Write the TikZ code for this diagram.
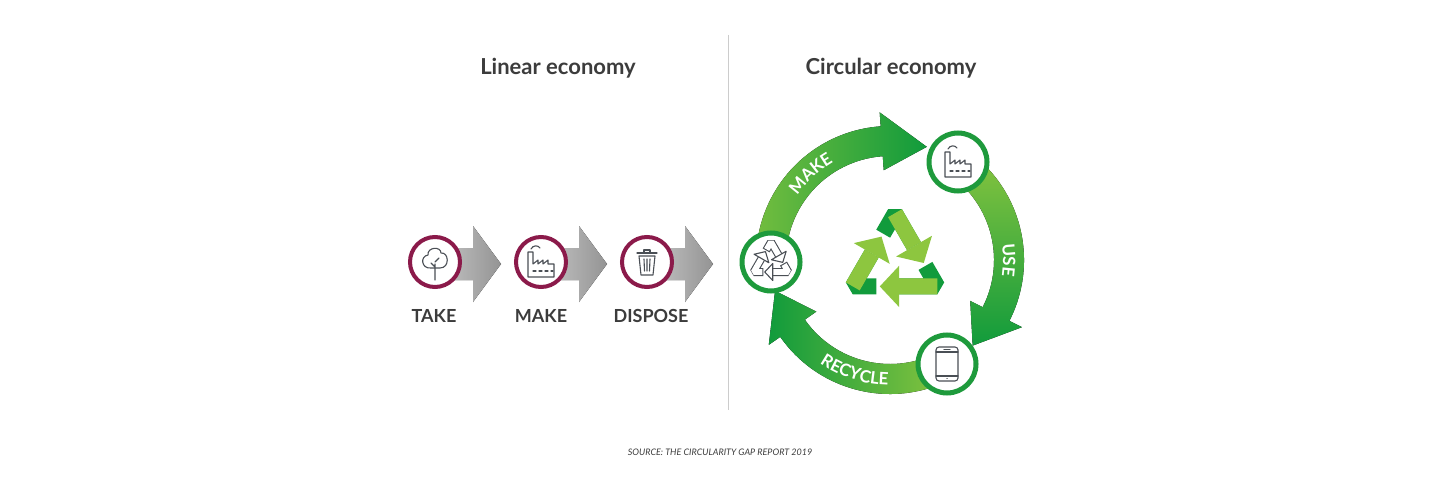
\documentclass[tikz,border=0pt]{standalone}
\usepackage{fontspec}
\setmainfont{Lato}
\usetikzlibrary{shapes.geometric,arrows.meta,decorations.text}
\definecolor{lg}{HTML}{8DC63F}
\definecolor{dg}{HTML}{119B3C}
\definecolor{ring}{HTML}{1E9A3C}
\definecolor{plum}{HTML}{8B1A4A}
\definecolor{ink}{HTML}{3C3C3C}
\definecolor{icon}{HTML}{4A4F55}
\tikzset{
  ttl/.style={font=\fontsize{22}{24}\selectfont\bfseries, text=ink},
  lbl/.style={font=\fontsize{18}{20}\selectfont\bfseries, text=ink},
  pcirc/.style={circle, draw=plum, line width=4pt, fill=white, minimum size=50pt},
  gcirc/.style={circle, draw=ring, line width=5pt, fill=white, minimum size=58pt},
  ico/.style={draw=icon, line width=1.1pt, line join=round, line cap=round},
  arctext/.style={decorate, decoration={text along path, text align=center, text={|\fontsize{17}{19}\selectfont\bfseries\color{white}|#1}}},
}
\begin{document}
\begin{tikzpicture}[x=1pt,y=-1pt]
\useasboundingbox (0,0) rectangle (1440,500);
\fill[white] (0,0) rectangle (1440,500);
% titles
\node[ttl] (t1) at (558,68) {Linear economy};
\node[ttl] (t2) at (891,68) {Circular economy};
\draw[black!20, line width=0.8pt] (728,35) -- (728,410);
\node[font=\fontsize{9}{10}\selectfont\itshape, text=ink] (src) at (720,452) {SOURCE: THE CIRCULARITY GAP REPORT 2019};
% linear arrows
\foreach \x in {435,541,647}{
  \fill[left color=black!22, right color=black!42] (\x,248) -- (\x+38,248) -- (\x+38,226) -- (\x+66,264) -- (\x+38,302) -- (\x+38,280) -- (\x,280) -- cycle;
}
\node[pcirc] (take) at (435,262) {};
\node[pcirc] (lmake) at (541,262) {};
\node[pcirc] (disp) at (647,262) {};
\node[lbl] (l1) at (434,316) {TAKE};
\node[lbl] (l2) at (541,316) {MAKE};
\node[lbl] (l3) at (651,316) {DISPOSE};
% tree icon
\begin{scope}[shift={(435,262)},yscale=-1]
\draw[ico] (-4,-6) .. controls (-14,-7) and (-15,6) .. (-7,7) .. controls (-8,15) and (6,16) .. (6,9) .. controls (14,10) and (15,-6) .. (5,-6) -- cycle;
\draw[ico] (0,-2) -- (0,-18) (0,0) -- (4,4) (0,-5) -- (-4,-1);
\end{scope}
% factory icon (linear)
\begin{scope}[shift={(541,264)},yscale=-1]
\draw[ico] (-13,-13) -- (-13,12) -- (-8,12) -- (-8,0) -- (-3,4) -- (-3,0) -- (2,4) -- (2,0) -- (7,4) -- (7,0) -- (13,0) -- (13,-13) -- cycle;
\draw[ico, dashed] (-8,-7) -- (12,-7);
\draw[ico] (-10,15) .. controls (-8,19) and (-3,19) .. (-1,16);
\end{scope}
% trash icon
\begin{scope}[shift={(647,262)},yscale=-1]
\draw[ico] (-10,9) -- (10,9) (-3,9) -- (-3,12) -- (3,12) -- (3,9);
\draw[ico] (-8,6) -- (-6,-13) -- (6,-13) -- (8,6) -- cycle;
\draw[ico] (-3,3) -- (-2.5,-9) (0,3) -- (0,-9) (3,3) -- (2.5,-9);
\end{scope}
% circular economy
\begin{scope}[shift={(890,260)},yscale=-1]
  \def\ri{104}\def\ro{134}\def\rm{119}
  % MAKE arrow
  \fill[left color=lg!80!dg, right color=dg] (185:\ro) arc[start angle=185,end angle=94,radius=\ro] -- (94:\ro+14) -- (72:\rm) -- (94:\ri-14) -- (94:\ri) arc[start angle=94,end angle=185,radius=\ri] -- cycle;
  % USE arrow
  \fill[top color=lg, bottom color=dg] (60:\ro) arc[start angle=60,end angle=-27,radius=\ro] -- (-27:\ro+14) -- (-46:\rm) -- (-27:\ri-14) -- (-27:\ri) arc[start angle=-27,end angle=60,radius=\ri] -- cycle;
  % RECYCLE arrow
  \fill[right color=lg, left color=dg] (-60:\ro) arc[start angle=-60,end angle=-145,radius=\ro] -- (-145:\ro+14) -- (-165:\rm) -- (-145:\ri-14) -- (-145:\ri) arc[start angle=-145,end angle=-60,radius=\ri] -- cycle;
  % labels along arcs
  \path[arctext=MAKE] (160:113) arc[start angle=160,end angle=105,radius=113];
  \path[arctext=USE] (25:113) arc[start angle=25,end angle=-25,radius=113];
  \path[arctext=RECYCLE] (-145:125) arc[start angle=-145,end angle=-70,radius=125];
  % central recycle symbol
  \begin{scope}[shift={(5,-2)},scale=1.22]
  \foreach \a in {0,120,240}{
    \begin{scope}[rotate=\a]
      \draw[dg, line width=16pt, line join=bevel] (-9.7,23.2) -- (0,40) -- (15.59,13);
      \draw[lg, line width=16pt] (0,40) -- (15.59,13);
      \fill[lg] (30.3,21.5) -- (23.56,-0.8) -- (0.87,4.5) -- cycle;
    \end{scope}
  }
  \end{scope}
\end{scope}
\node[gcirc] (cmake) at (958,162) {};
\node[gcirc] (crec) at (771,262) {};
\node[gcirc] (cuse) at (947,364) {};
% factory icon
\begin{scope}[shift={(958,164)},yscale=-1]
\draw[ico] (-13,-13) -- (-13,12) -- (-8,12) -- (-8,0) -- (-3,4) -- (-3,0) -- (2,4) -- (2,0) -- (7,4) -- (7,0) -- (13,0) -- (13,-13) -- cycle;
\draw[ico, dashed] (-8,-7) -- (12,-7);
\draw[ico] (-10,15) .. controls (-8,19) and (-3,19) .. (-1,16);
\end{scope}
% phone icon
\begin{scope}[shift={(947,364)},yscale=-1]
\draw[ico, rounded corners=3pt] (-11,-17) rectangle (11,17);
\draw[ico] (-11,12) -- (11,12) (-11,-12) -- (11,-12) (-3,14.5) -- (3,14.5) (0,-14.5) -- (0.2,-14.5);
\end{scope}
% recycle icon (outline)
\begin{scope}[shift={(771,262)},yscale=-1,scale=0.5]
  \foreach \a in {0,120,240}{
    \begin{scope}[rotate=\a]
      \draw[icon, line width=8pt, line join=bevel] (-9.7,23.2) -- (0,40) -- (15.59,13);
      \draw[white, line width=5.8pt, line join=bevel, shorten <=1.1pt] (-9.7,23.2) -- (0,40) -- (15.59,13);
      \filldraw[draw=icon, fill=white, line width=1.1pt, line join=round] (30.3,21.5) -- (23.56,-0.8) -- (0.87,4.5) -- cycle;
    \end{scope}
  }
\end{scope}
\end{tikzpicture}
\end{document}
